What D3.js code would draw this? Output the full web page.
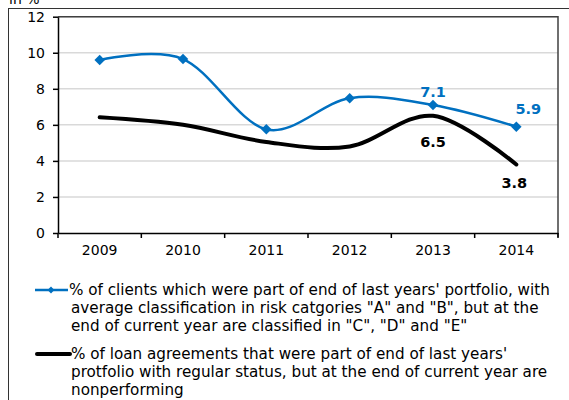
<!DOCTYPE html>
<html>
<head>
<meta charset="utf-8">
<script src="https://cdn.jsdelivr.net/npm/d3@7"></script>
<style>
  html, body { margin: 0; padding: 0; background: #fff; }
  svg { display: block; font-family: "DejaVu Sans", Verdana, sans-serif; }
</style>
</head>
<body>
<svg id="chart" width="569" height="400"></svg>
<script>
const years = ["2009", "2010", "2011", "2012", "2013", "2014"];
const clientsShare = [9.6, 9.65, 5.75, 7.48, 7.1, 5.9];
const loanShare = [6.42, 6.0, 5.05, 4.8, 6.5, 3.8];
const yTicks = [0, 2, 4, 6, 8, 10, 12];
const legendClients = ["% of clients which were part of end of last years' portfolio, with",
  "average classification in risk catgories \"A\" and \"B\", but at the",
  "end of current year are classified in \"C\", \"D\" and \"E\""];
const legendLoans = ["% of loan agreements that were part of end of last years'",
  "protfolio with regular status, but at the end of current year are",
  "nonperforming"];
const labelsClients = [{ year: "2013", text: "7.1" }, { year: "2014", text: "5.9" }];
const labelsLoans = [{ year: "2013", text: "6.5" }, { year: "2014", text: "3.8" }];

const svg = d3.select("#chart");
const blue = "#0070C0";
const L = 58, R = 558, T = 16.7, B = 233;

// outer frame
svg.append("rect").attr("x", 8.5).attr("y", 8.5).attr("width", 600).attr("height", 450)
  .attr("fill", "none").attr("stroke", "#333").attr("stroke-width", 1);
svg.append("text").attr("x", 9).attr("y", 4).attr("font-size", 14).text("in %");

const x = d3.scaleBand().domain(years).range([L, R]);
const y = d3.scaleLinear().domain([0, 12]).range([B, T]);

// gridlines
svg.append("g").selectAll("line").data(yTicks.filter(d => d > 0)).join("line")
  .attr("x1", L).attr("x2", R).attr("y1", d => y(d)).attr("y2", d => y(d))
  .attr("stroke", "#d9d9d9").attr("stroke-width", 1.5);

// plot box top/right
svg.append("path").attr("d", `M${L},${y(12)}H${R}V${B + 4}`)
  .attr("fill", "none").attr("stroke", "#404040").attr("stroke-width", 1.5);

// y axis
const yAxis = svg.append("g").attr("transform", `translate(${L},0)`)
  .call(d3.axisLeft(y).tickValues(yTicks).tickSize(5).tickSizeOuter(0).tickPadding(8));
yAxis.select(".domain").attr("stroke", "#000").attr("stroke-width", 1.5);
yAxis.selectAll(".tick line").attr("stroke", "#000").attr("stroke-width", 1.5);
yAxis.selectAll("text").attr("font-size", 14).attr("font-family", "DejaVu Sans").attr("fill", "#000");

// x axis
const xAxis = svg.append("g").attr("transform", `translate(0,${B})`)
  .call(d3.axisBottom(x).tickSize(0).tickPadding(12));
xAxis.select(".domain").attr("stroke", "#000").attr("stroke-width", 1.5);
xAxis.selectAll("text").attr("font-size", 14).attr("font-family", "DejaVu Sans").attr("fill", "#000");
const bounds = years.map(d => x(d)).concat([R]);
svg.append("g").selectAll("line").data(bounds).join("line")
  .attr("x1", d => d).attr("x2", d => d).attr("y1", B).attr("y2", B + 5)
  .attr("stroke", "#000").attr("stroke-width", 1.5);

const cx = d => x(d) + x.bandwidth() / 2;
const line = d3.line().curve(d3.curveCardinal.tension(0));

// black series
svg.append("path").attr("d", line(years.map((d, i) => [cx(d), y(loanShare[i])])))
  .attr("fill", "none").attr("stroke", "#000").attr("stroke-width", 4).attr("stroke-linecap", "round");

// blue series
svg.append("path").attr("d", line(years.map((d, i) => [cx(d), y(clientsShare[i])])))
  .attr("fill", "none").attr("stroke", blue).attr("stroke-width", 2.5);
const diamond = d3.symbol().type(d3.symbolDiamond2).size(70);
svg.append("g").selectAll("path").data(years).join("path")
  .attr("d", diamond)
  .attr("transform", (d, i) => `translate(${cx(d)},${y(clientsShare[i])})`)
  .attr("fill", blue);

// data labels
const idx = d => years.indexOf(d);
svg.append("g").selectAll("text").data(labelsClients).join("text")
  .attr("x", (d, i) => cx(d.year) + (i === 1 ? 12 : 0))
  .attr("y", (d, i) => y(clientsShare[idx(d.year)]) - (i === 1 ? 13 : 8))
  .attr("text-anchor", "middle").attr("font-size", 14.5).attr("font-weight", "bold")
  .attr("fill", blue).text(d => d.text);
svg.append("g").selectAll("text").data(labelsLoans).join("text")
  .attr("x", (d, i) => cx(d.year) + (i === 1 ? -2 : 0))
  .attr("y", (d, i) => y(loanShare[idx(d.year)]) + (i === 1 ? 23 : 31))
  .attr("text-anchor", "middle").attr("font-size", 14.5).attr("font-weight", "bold")
  .attr("fill", "#000").text(d => d.text);

// legend
const lg = svg.append("g");
lg.append("line").attr("x1", 35).attr("x2", 68).attr("y1", 290).attr("y2", 290)
  .attr("stroke", blue).attr("stroke-width", 2.5);
lg.append("path").attr("d", d3.symbol().type(d3.symbolDiamond2).size(30))
  .attr("transform", "translate(51,290)").attr("fill", blue);
lg.append("text").attr("x", 69).attr("y", 295).attr("font-size", 15.2)
  .selectAll("tspan").data(legendClients).join("tspan")
  .attr("x", (d, i) => i === 0 ? 69 : 71).attr("dy", (d, i) => i === 0 ? 0 : 18).text(d => d);
lg.append("line").attr("x1", 37).attr("x2", 70).attr("y1", 354).attr("y2", 354)
  .attr("stroke", "#000").attr("stroke-width", 4).attr("stroke-linecap", "round");
lg.append("text").attr("x", 71).attr("y", 359).attr("font-size", 15.2)
  .selectAll("tspan").data(legendLoans).join("tspan")
  .attr("x", (d, i) => i === 0 ? 71 : 71).attr("dy", (d, i) => i === 0 ? 0 : 18).text(d => d);
</script>
</body>
</html>
